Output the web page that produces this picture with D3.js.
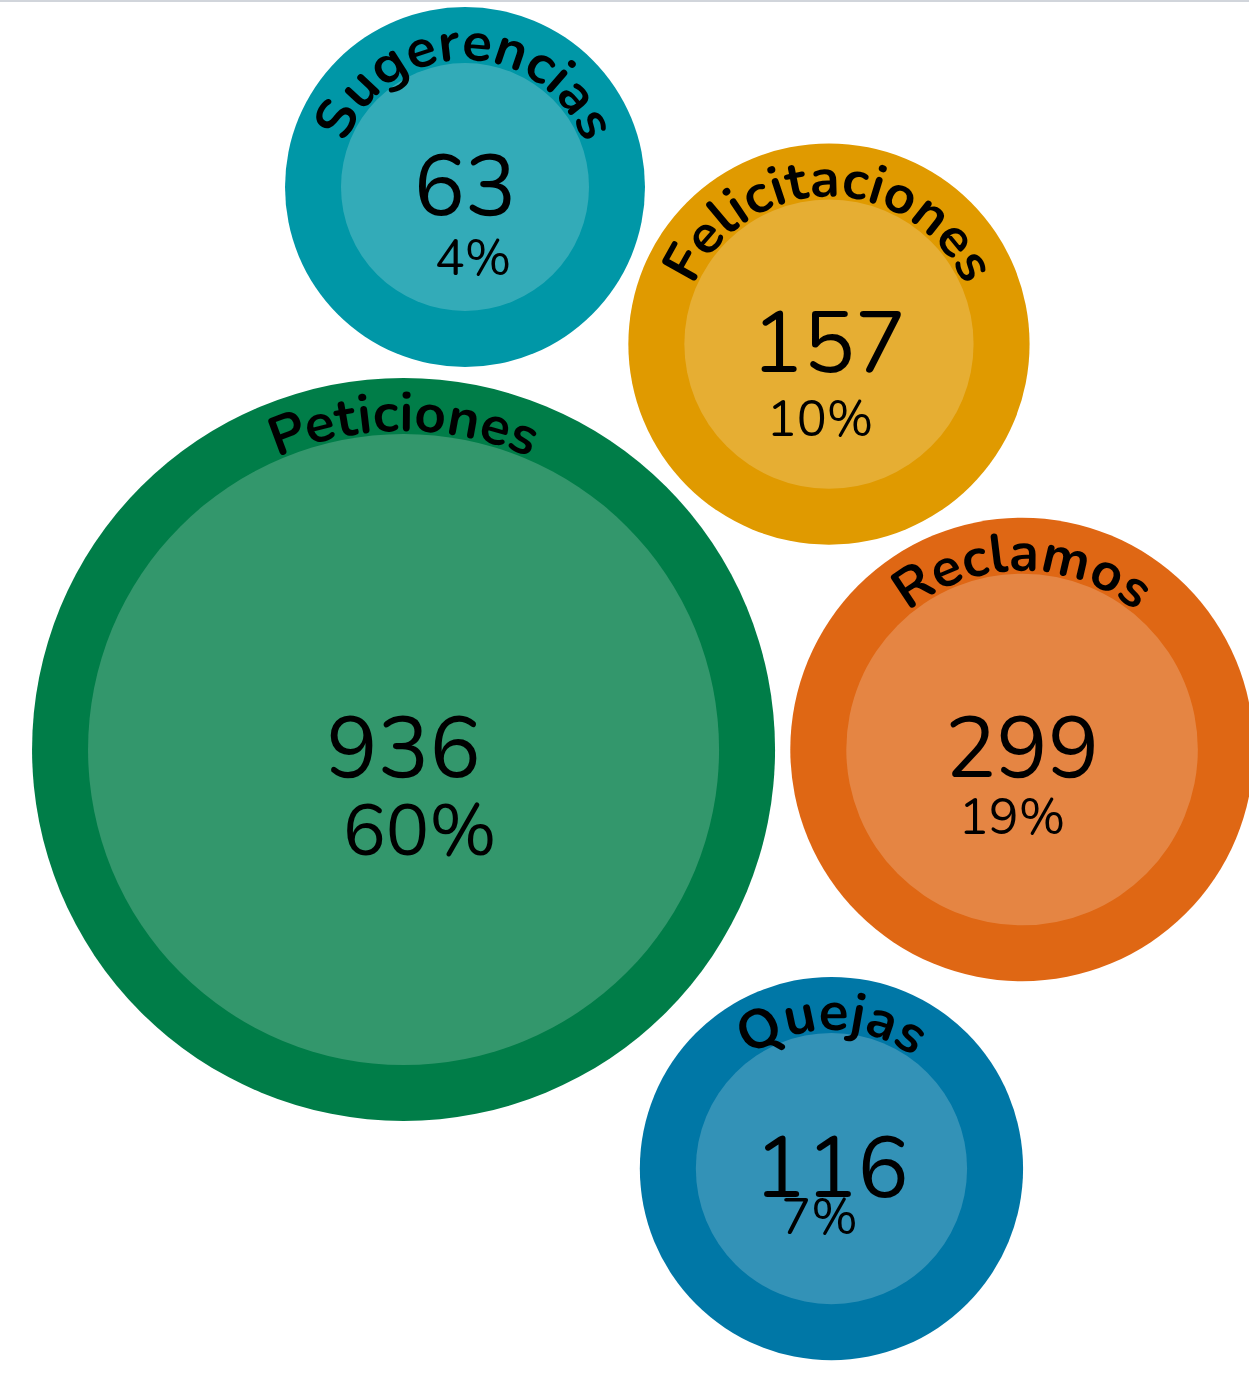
<!DOCTYPE html>
<html>
<head>
<meta charset="utf-8">
<script src="https://cdn.jsdelivr.net/npm/d3@7/dist/d3.min.js"></script>
<style>
  html, body { margin: 0; padding: 0; background: #ffffff; }
  svg { display: block; }
</style>
</head>
<body>
<script>
// ---------- DATA ----------
const categories = ["Sugerencias", "Felicitaciones", "Peticiones", "Reclamos", "Quejas"];
const values = [63, 157, 936, 299, 116];
const percentLabels = ["4%", "10%", "60%", "19%", "7%"];

// ---------- STYLE / LAYOUT (kept apart from data) ----------
const colors = ["#0097a7", "#e09a00", "#007d48", "#df6714", "#0077a6"];
// bubble anchors as fractions of the canvas
const anchorX = [0.3723, 0.6637, 0.3231, 0.8183, 0.6657];
const anchorY = [0.1356, 0.2495, 0.5435, 0.5435, 0.8474];
// percent label offsets (px from centre)
const pctDx = [8, -9, 16, -10, -12];
const pctDy = [88, 92, 106, 85, 65];

const W = 1249, H = 1379;
const RING = 56;
const FONT = "Nunito, 'Open Sans', 'Noto Sans', sans-serif";

const svg = d3.select("body").append("svg").attr("width", W).attr("height", H);

const x = d3.scaleLinear().domain([0, 1]).range([0, W]);
const y = d3.scaleLinear().domain([0, 1]).range([0, H]);
const r = d3.scaleLinear().domain([63, 936]).range([180, 371.5]);

const nodes = categories.map((c, i) => ({
  name: c, value: values[i], pct: percentLabels[i], color: colors[i],
  cx: x(anchorX[i]), cy: y(anchorY[i]), r: r(values[i]), i
}));

const defs = svg.append("defs");

const g = svg.selectAll("g.bubble").data(nodes).enter().append("g").attr("class", "bubble");

g.append("circle")
  .attr("cx", d => d.cx).attr("cy", d => d.cy).attr("r", d => d.r)
  .attr("fill", d => d.color);

g.append("circle")
  .attr("cx", d => d.cx).attr("cy", d => d.cy).attr("r", d => d.r - RING)
  .attr("fill", "#ffffff").attr("fill-opacity", 0.2);

// arc paths for curved labels
nodes.forEach(d => {
  const rt = d.r - RING + 3;
  defs.append("path")
    .attr("id", "arc" + d.i)
    .attr("d", `M ${d.cx - rt} ${d.cy} A ${rt} ${rt} 0 0 1 ${d.cx + rt} ${d.cy}`);
});

g.append("text")
  .attr("font-family", FONT).attr("font-weight", 700).attr("font-size", 55)
  .attr("fill", "#000")
  .append("textPath")
  .attr("href", d => "#arc" + d.i)
  .attr("startOffset", "50%")
  .attr("text-anchor", "middle")
  .text(d => d.name);

g.append("text")
  .attr("x", d => d.cx).attr("y", d => d.cy + 28)
  .attr("text-anchor", "middle")
  .attr("font-family", FONT).attr("font-size", 86).attr("font-weight", 400)
  .attr("fill", "#000")
  .text(d => d.value);

g.append("text")
  .attr("x", d => d.cx + pctDx[d.i]).attr("y", d => d.cy + pctDy[d.i])
  .attr("text-anchor", "middle")
  .attr("font-family", FONT).attr("font-size", d => Math.max(50, d.r * 0.195)).attr("font-weight", 400)
  .attr("fill", "#000")
  .text(d => d.pct);

// thin grey rule at the top
svg.append("rect").attr("x", 0).attr("y", 0).attr("width", W).attr("height", 2).attr("fill", "#d1d5db");
</script>
</body>
</html>
